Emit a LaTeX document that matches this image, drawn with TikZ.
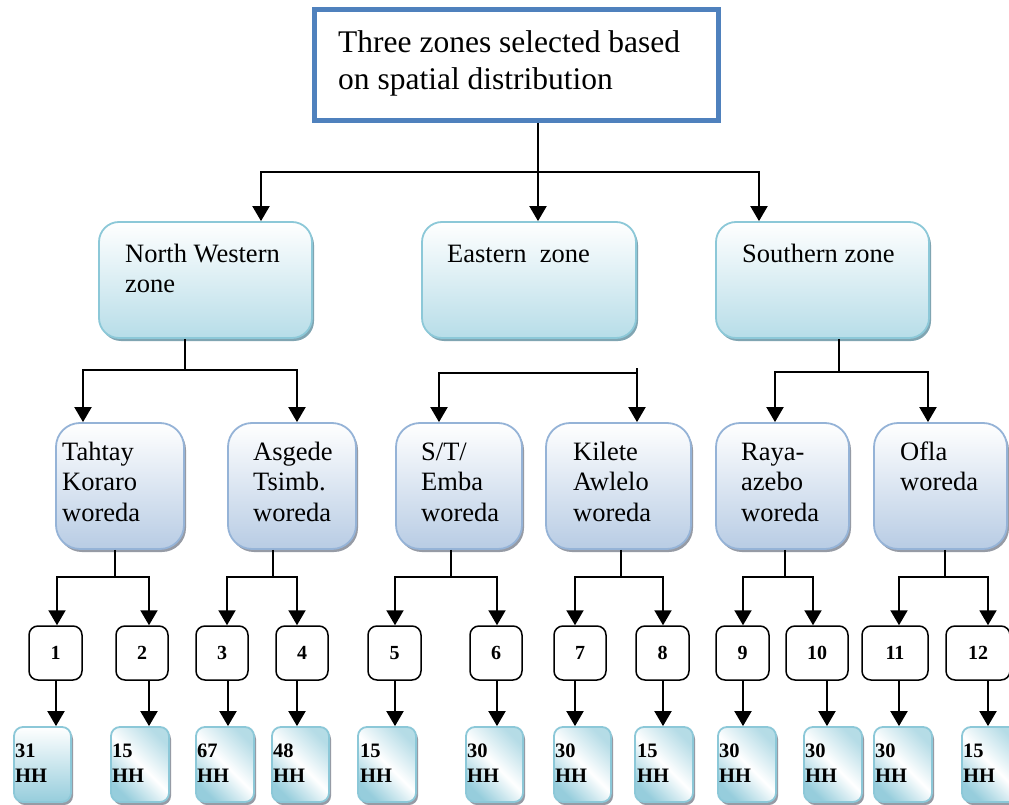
\documentclass[tikz,border=0pt]{standalone}
\usepackage{fontspec}
\setmainfont{Liberation Serif}
\usetikzlibrary{arrows.meta,shadows}
\definecolor{topblue}{RGB}{79,129,189}
\definecolor{zoneedge}{RGB}{140,200,216}
\definecolor{zonefill}{RGB}{183,221,232}
\definecolor{zoneshadow}{RGB}{128,165,178}
\definecolor{wedge}{RGB}{149,179,215}
\definecolor{wfill}{RGB}{184,204,228}
\definecolor{wshadow}{RGB}{150,155,165}
\definecolor{hhedge}{RGB}{140,200,216}
\definecolor{hhfill}{RGB}{150,205,220}
\tikzset{
  topbox/.style={draw=topblue, line width=5pt, fill=white, inner sep=0pt},
  zonebox/.style={draw=zoneedge, line width=1.8pt, rounded corners=20pt,
    top color=white, bottom color=zonefill, minimum width=#1, minimum height=116pt,
    inner sep=0pt, drop shadow={shadow xshift=2pt, shadow yshift=-3pt, fill=zoneshadow, opacity=1}},
  wbox/.style={draw=wedge, line width=1.8pt, rounded corners=24pt,
    top color=white, bottom color=wfill, minimum width=#1, minimum height=126pt,
    inner sep=0pt, drop shadow={shadow xshift=2pt, shadow yshift=-3pt, fill=wshadow, opacity=1}},
  nbox/.style={draw=black, line width=1.5pt, rounded corners=9pt, fill=white,
    minimum width=#1, minimum height=54pt, inner sep=0pt,
    font=\fontsize{20}{24}\selectfont\bfseries},
  hhbox/.style={draw=hhedge, line width=1.8pt, rounded corners=9pt,
    left color=hhfill, right color=hhfill!70, middle color=white, shading angle=135,
    minimum width=#1, minimum height=75pt, inner sep=0pt,
    drop shadow={shadow xshift=2pt, shadow yshift=-3pt, fill=wshadow, opacity=1}},
  toptext/.style={anchor=base west, inner sep=0pt, font=\fontsize{31.5}{37}\selectfont},
  ztext/.style={anchor=base west, inner sep=0pt, font=\fontsize{26.5}{30.5}\selectfont},
  hhtext/.style={anchor=base west, inner sep=0pt, font=\fontsize{20.5}{25}\selectfont\bfseries},
  arr/.style={line width=2pt, -{Triangle[width=17pt,length=15pt]}},
  stem/.style={line width=1.4pt},
}
\begin{document}
\begin{tikzpicture}[x=1pt,y=-1pt]
\useasboundingbox (0,0) rectangle (1009,805);
\clip (0,0) rectangle (1009,805);
\fill[white] (0,0) rectangle (1009,805);

% top box
\node[topbox, minimum width=404pt, minimum height=111pt] (top) at (516.5,65) {};
\node[toptext] (ttop) at (338,53) {\vtop{\hbox{Three zones selected based}\hbox{on spatial distribution}}};

% zones
\node[zonebox=213pt] (nw) at (205.5,280) {};
\node[zonebox=214pt] (ez) at (529,280) {};
\node[zonebox=213pt] (sz) at (822.5,280) {};
\node[ztext] (tnw) at (125,262) {\vtop{\hbox{North Western}\hbox{zone}}};
\node[ztext] (tez) at (447,262) {Eastern\ \ zone};
\node[ztext] (tsz) at (742,262) {Southern zone};

% woredas
\node[wbox=128pt] (tk) at (120,486) {};
\node[wbox=128pt] (as) at (292,486) {};
\node[wbox=126pt] (st) at (459,486) {};
\node[wbox=145pt] (ka) at (618.5,486) {};
\node[wbox=133pt] (ra) at (782.5,486) {};
\node[wbox=133pt] (of) at (940.5,486) {};
\node[ztext] (ttk) at (62,460) {\vtop{\hbox{Tahtay}\hbox{Koraro}\hbox{woreda}}};
\node[ztext] (tas) at (253,460) {\vtop{\hbox{Asgede}\hbox{Tsimb.}\hbox{woreda}}};
\node[ztext] (tst) at (421,460) {\vtop{\hbox{S/T/}\hbox{Emba}\hbox{woreda}}};
\node[ztext] (tka) at (573,460) {\vtop{\hbox{Kilete}\hbox{Awlelo}\hbox{woreda}}};
\node[ztext] (tra) at (741,460) {\vtop{\hbox{Raya-}\hbox{azebo}\hbox{woreda}}};
\node[ztext] (tof) at (900,460) {\vtop{\hbox{Ofla}\hbox{woreda}}};

% number boxes
\node[nbox=53pt] (n1) at (55.5,653) {1};
\node[nbox=52pt] (n2) at (142,653) {2};
\node[nbox=52pt] (n3) at (222,653) {3};
\node[nbox=52pt] (n4) at (302,653) {4};
\node[nbox=53pt] (n5) at (394.5,653) {5};
\node[nbox=52pt] (n6) at (496,653) {6};
\node[nbox=52pt] (n7) at (580,653) {7};
\node[nbox=53pt] (n8) at (662.5,653) {8};
\node[nbox=53pt] (n9) at (742.5,653) {9};
\node[nbox=62pt] (n10) at (817,653) {10};
\node[nbox=66pt] (n11) at (895,653) {11};
\node[nbox=64pt] (n12) at (978,653) {12};

% HH boxes
\node[hhbox=57pt, top color=white, bottom color=hhfill] (h1) at (42.5,764.5) {};
\node[hhbox=58pt] (h2) at (140,764.5) {};
\node[hhbox=58pt] (h3) at (225,764.5) {};
\node[hhbox=57pt] (h4) at (300.5,764.5) {};
\node[hhbox=58pt] (h5) at (387,764.5) {};
\node[hhbox=57pt] (h6) at (494.5,764.5) {};
\node[hhbox=57pt] (h7) at (582.5,764.5) {};
\node[hhbox=58pt] (h8) at (664,764.5) {};
\node[hhbox=58pt] (h9) at (747,764.5) {};
\node[hhbox=58pt] (h10) at (833,764.5) {};
\node[hhbox=58pt] (h11) at (903,764.5) {};
\node[hhbox=58pt] (h12) at (991,764.5) {};
\node[hhtext] (th1) at (15,757) {\vtop{\hbox{31}\hbox{HH}}};
\node[hhtext] (th2) at (112,757) {\vtop{\hbox{15}\hbox{HH}}};
\node[hhtext] (th3) at (197,757) {\vtop{\hbox{67}\hbox{HH}}};
\node[hhtext] (th4) at (273,757) {\vtop{\hbox{48}\hbox{HH}}};
\node[hhtext] (th5) at (360,757) {\vtop{\hbox{15}\hbox{HH}}};
\node[hhtext] (th6) at (467,757) {\vtop{\hbox{30}\hbox{HH}}};
\node[hhtext] (th7) at (555,757) {\vtop{\hbox{30}\hbox{HH}}};
\node[hhtext] (th8) at (637,757) {\vtop{\hbox{15}\hbox{HH}}};
\node[hhtext] (th9) at (719,757) {\vtop{\hbox{30}\hbox{HH}}};
\node[hhtext] (th10) at (805,757) {\vtop{\hbox{30}\hbox{HH}}};
\node[hhtext] (th11) at (875,757) {\vtop{\hbox{30}\hbox{HH}}};
\node[hhtext] (th12) at (963,757) {\vtop{\hbox{15}\hbox{HH}}};

% top connectors
\draw[arr] (538,0 |- top.south) -- (538,0 |- ez.north);
\draw[arr] (538,172) -| (261,0 |- nw.north);
\draw[arr] (538,172) -| (759,0 |- sz.north);

% zone connectors
\draw[stem] (185,0 |- nw.south) -- (185,370);
\draw[arr] (185,370) -| (83,0 |- tk.north);
\draw[arr] (185,370) -| (297,0 |- as.north);
\draw[arr] (637,368) -- (637,0 |- ka.north);
\draw[arr] (637,373) -| (439,0 |- st.north);
\draw[stem] (839,0 |- sz.south) -- (839,372);
\draw[arr] (839,372) -| (775,0 |- ra.north);
\draw[arr] (839,372) -| (928,0 |- of.north);

% woreda connectors
\draw[stem] (115,0 |- tk.south) -- (115,577);
\draw[arr] (115,577) -| (57,0 |- n1.north);
\draw[arr] (115,577) -| (149,0 |- n2.north);
\draw[stem] (273,0 |- as.south) -- (273,577);
\draw[arr] (273,577) -| (227,0 |- n3.north);
\draw[arr] (273,577) -| (297,0 |- n4.north);
\draw[stem] (451,0 |- st.south) -- (451,577);
\draw[arr] (451,577) -| (395,0 |- n5.north);
\draw[arr] (451,577) -| (497,0 |- n6.north);
\draw[stem] (621,0 |- ka.south) -- (621,577);
\draw[arr] (621,577) -| (575,0 |- n7.north);
\draw[arr] (621,577) -| (663,0 |- n8.north);
\draw[stem] (785,0 |- ra.south) -- (785,577);
\draw[arr] (785,577) -| (743,0 |- n9.north);
\draw[arr] (785,577) -| (813,0 |- n10.north);
\draw[stem] (945,0 |- of.south) -- (945,577);
\draw[arr] (945,577) -| (899,0 |- n11.north);
\draw[arr] (945,577) -| (988,0 |- n12.north);

% number to HH
\draw[arr] (56,0 |- n1.south) -- (56,0 |- h1.north);
\draw[arr] (149,0 |- n2.south) -- (149,0 |- h2.north);
\draw[arr] (228,0 |- n3.south) -- (228,0 |- h3.north);
\draw[arr] (297,0 |- n4.south) -- (297,0 |- h4.north);
\draw[arr] (395,0 |- n5.south) -- (395,0 |- h5.north);
\draw[arr] (497,0 |- n6.south) -- (497,0 |- h6.north);
\draw[arr] (575,0 |- n7.south) -- (575,0 |- h7.north);
\draw[arr] (663,0 |- n8.south) -- (663,0 |- h8.north);
\draw[arr] (743,0 |- n9.south) -- (743,0 |- h9.north);
\draw[arr] (827,0 |- n10.south) -- (827,0 |- h10.north);
\draw[arr] (899,0 |- n11.south) -- (899,0 |- h11.north);
\draw[arr] (988,0 |- n12.south) -- (988,0 |- h12.north);
\end{tikzpicture}
\end{document}
